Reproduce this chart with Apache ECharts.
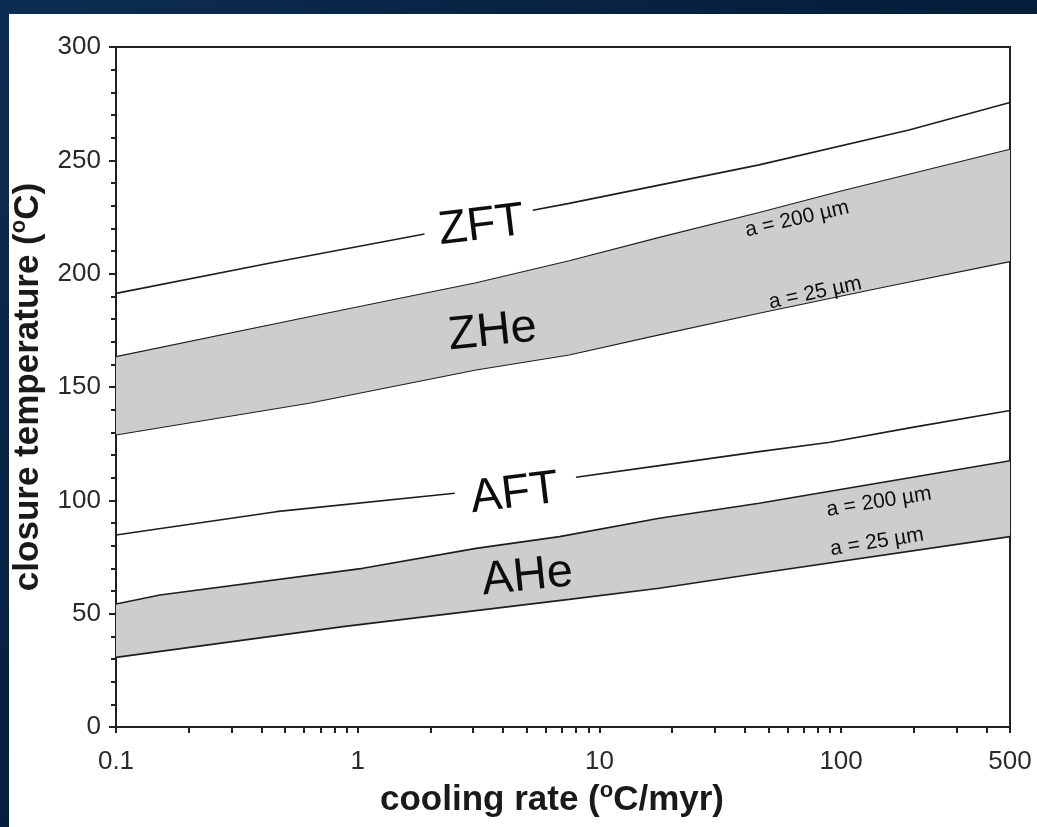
<!DOCTYPE html>
<html>
<head>
<meta charset="utf-8">
<script src="https://cdn.jsdelivr.net/npm/echarts@6/dist/echarts.min.js"></script>
<style>
  html, body { margin: 0; padding: 0; width: 1037px; height: 827px; overflow: hidden;
    background: linear-gradient(135deg, #0c2d52 0%, #06203f 40%, #021430 100%); }
  #panel { position: absolute; left: 9px; top: 14px; width: 1028px; height: 813px; background: #ffffff; }
  #chart { width: 100%; height: 100%; }
</style>
</head>
<body>
<div id="panel"><div id="chart"></div></div>
<script>
// ---- data (x = cooling rate °C/myr, y = closure temperature °C) ----
const xTickValues = [0.1,0.2,0.3,0.4,0.5,0.6,0.7,0.8,0.9,1,2,3,4,5,6,7,8,9,10,20,30,40,50,60,70,80,90,100,200,300,400,500];
const xLabelValues = [0.1, 1, 10, 100, 500];

const zftLeft  = [[0.1,191.3],[0.43,204.6],[1.89,217.5]];
const zftRight = [[5.3,228],[7.5,231],[45.8,248],[191,263.4],[500,275.5]];

const zheUpper = [[0.1,163.4],[0.63,181],[3.09,196],[7.5,205.7],[17.7,216],[45.8,227],[100,236.5],[500,254.9]];
const zheLower = [[0.1,128.8],[0.63,142.8],[3.09,157.5],[7.5,164.1],[17.7,173],[45.8,182.5],[150,194],[500,205.3]];

const aftLeft  = [[0.1,84.7],[0.46,95],[2.52,103.1]];
const aftRight = [[8.0,110.2],[17.7,115.3],[45.8,121.5],[90,125.6],[200,132.3],[500,139.6]];

const aheUpper = [[0.1,54.3],[0.152,58.2],[1.05,70],[3.09,78.8],[6.84,84],[17.7,92.1],[45.8,98.7],[500,117.5]];
const aheLower = [[0.1,30.7],[0.87,44.3],[7.5,56.3],[17.7,61.2],[45.8,67.8],[500,84]];

// text annotations: [x, y, text, rotation]
const bigLabels = [
  [3.25, 221, 'ZFT', 7],
  [3.61, 174.3, 'ZHe', 6],
  [4.46, 102.8, 'AFT', 7],
  [5.04, 66.2, 'AHe', 6]
];
const smallLabels = [
  [65.8, 224.1, 'a = 200 µm', 13],
  [78.2, 191.5, 'a = 25 µm', 12],
  [143.6, 99.3, 'a = 200 µm', 9],
  [140.9, 81.6, 'a = 25 µm', 9]
];

const FONT = "'Liberation Sans', Arial, Helvetica, sans-serif";
const LINE = '#1e1e1e';
const BAND = '#cdcdcd';

function band(upper, lower) {
  return {
    type: 'custom',
    data: [upper[0]],
    encode: { x: 0, y: 1 },
    silent: true,
    z: 1,
    renderItem: function (params, api) {
      const pts = upper.map(p => api.coord(p)).concat(lower.slice().reverse().map(p => api.coord(p)));
      return { type: 'polygon', shape: { points: pts }, style: { fill: BAND } };
    }
  };
}
function line(data, width) {
  return {
    type: 'line', data: data, symbol: 'none', showSymbol: false, silent: true, z: 3,
    lineStyle: { color: LINE, width: width }
  };
}
function labels(list, size) {
  return {
    type: 'scatter', silent: true, z: 5, symbolSize: 1,
    itemStyle: { color: 'rgba(0,0,0,0)' },
    data: list.map(l => ({ value: [l[0], l[1]], name: l[2], label: { rotate: l[3] } })),
    label: { show: true, position: 'inside', formatter: p => p.name,
      fontFamily: FONT, fontSize: size, color: '#0d0d0d', opacity: 1,
      textBorderWidth: 0, textShadowBlur: 0 }
  };
}

const titleRich = {
  t: { fontFamily: FONT, fontSize: 35, fontWeight: 'bold', color: '#1a1a1a', lineHeight: 38, verticalAlign: 'bottom' },
  s: { fontFamily: FONT, fontSize: 22, fontWeight: 'bold', color: '#1a1a1a', lineHeight: 38, verticalAlign: 'top' }
};

const chart = echarts.init(document.getElementById('chart'));
chart.setOption({
  animation: false,
  grid: { left: 107, top: 33, right: 27, bottom: 100, outerBoundsMode: 'none', containLabel: false,
    show: true, borderColor: '#222', borderWidth: 2, backgroundColor: 'transparent' },
  xAxis: {
    type: 'log', logBase: 10, min: 0.1, max: 500,
    name: '{t|cooling rate (}{s|o}{t|C/myr)}',
    nameLocation: 'middle', nameGap: 50,
    nameTextStyle: { rich: titleRich, padding: [0, 22, 0, 0] },
    axisLine: { show: true, onZero: false, lineStyle: { color: '#222', width: 2 } },
    axisTick: { show: true, inside: false, length: 6, customValues: xTickValues, lineStyle: { color: '#222', width: 2 } },
    minorTick: { show: false },
    axisLabel: { customValues: xLabelValues, margin: 22, fontFamily: FONT, fontSize: 26, color: '#2a2a2a',
      formatter: v => String(v) },
    splitLine: { show: false }
  },
  yAxis: {
    type: 'value', min: 0, max: 300, interval: 50,
    name: '{t|closure temperature (}{s|o}{t|C)}',
    nameLocation: 'middle', nameGap: 70,
    nameTextStyle: { rich: titleRich },
    axisLine: { show: true, lineStyle: { color: '#222', width: 2 } },
    axisTick: { show: true, inside: false, length: 7, lineStyle: { color: '#222', width: 2 } },
    minorTick: { show: true, splitNumber: 5, length: 5, lineStyle: { color: '#222', width: 2 } },
    axisLabel: { margin: 15, fontFamily: FONT, fontSize: 26, color: '#2a2a2a' },
    splitLine: { show: false }
  },
  series: [
    band(zheUpper, zheLower),
    band(aheUpper, aheLower),
    line(zftLeft, 1.6), line(zftRight, 1.6),
    line(zheUpper, 1.1), line(zheLower, 1.1),
    line(aftLeft, 1.6), line(aftRight, 1.6),
    line(aheUpper, 1.6), line(aheLower, 1.6),
    labels(bigLabels, 47),
    labels(smallLabels, 21)
  ]
});
</script>
</body>
</html>
